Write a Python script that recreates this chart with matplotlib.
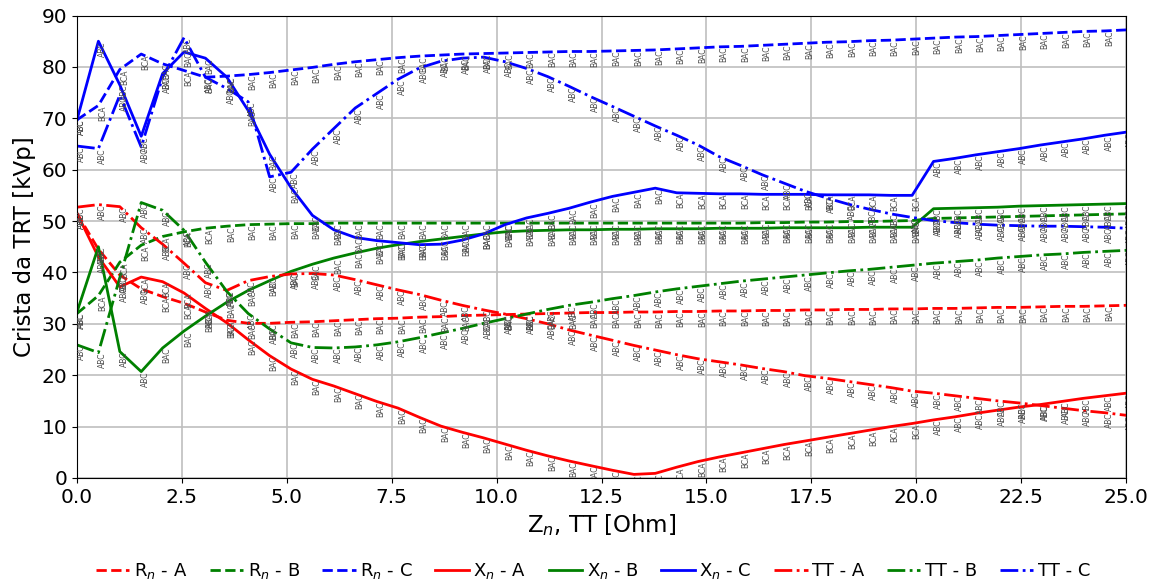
import matplotlib
matplotlib.use("Agg")
import matplotlib.pyplot as plt
from matplotlib.ticker import MultipleLocator

# impedance grid [Ohm]
x = [0.00, 0.51, 1.02, 1.53, 2.04, 2.55, 3.06, 3.57, 4.08, 4.59,
     5.10, 5.61, 6.12, 6.63, 7.14, 7.65, 8.16, 8.67, 9.18, 9.69,
     10.20, 10.71, 11.22, 11.73, 12.24, 12.76, 13.27, 13.78, 14.29, 14.80,
     15.31, 15.82, 16.33, 16.84, 17.35, 17.86, 18.37, 18.88, 19.39, 19.90,
     20.41, 20.92, 21.43, 21.94, 22.45, 22.96, 23.47, 23.98, 24.49, 25.00]

rn_a = [51.5, 44.5, 39.5, 36.8, 35.3, 34.0, 32.3, 30.7, 30.1, 30.1,
        30.3, 30.4, 30.6, 30.8, 31.0, 31.1, 31.3, 31.4, 31.6, 31.7,
        31.8, 31.9, 32.0, 32.1, 32.2, 32.2, 32.3, 32.3, 32.4, 32.4,
        32.5, 32.5, 32.6, 32.6, 32.7, 32.7, 32.8, 32.8, 32.9, 32.9,
        33.0, 33.0, 33.1, 33.2, 33.2, 33.3, 33.4, 33.4, 33.5, 33.6]
rn_b = [32.0, 35.5, 42.0, 45.3, 47.0, 47.9, 48.6, 49.0, 49.3, 49.4,
        49.5, 49.5, 49.6, 49.6, 49.6, 49.6, 49.6, 49.6, 49.6, 49.6,
        49.6, 49.6, 49.6, 49.6, 49.6, 49.6, 49.6, 49.6, 49.6, 49.6,
        49.6, 49.6, 49.7, 49.7, 49.8, 49.8, 49.9, 49.9, 50.0, 50.1,
        50.5, 50.6, 50.7, 50.8, 50.9, 51.0, 51.1, 51.2, 51.3, 51.4]
rn_c = [69.7, 72.5, 79.5, 82.5, 80.6, 79.3, 78.0, 78.2, 78.5, 78.9,
        79.4, 79.9, 80.5, 81.0, 81.4, 81.8, 82.1, 82.3, 82.5, 82.6,
        82.7, 82.8, 82.9, 83.0, 83.0, 83.1, 83.2, 83.3, 83.5, 83.7,
        83.9, 84.0, 84.2, 84.4, 84.6, 84.8, 84.9, 85.1, 85.2, 85.4,
        85.6, 85.8, 85.9, 86.1, 86.3, 86.5, 86.7, 86.9, 87.0, 87.2]

xn_a = [51.5, 43.0, 37.2, 39.1, 38.2, 36.0, 33.0, 30.2, 26.9, 23.8,
        21.2, 19.2, 17.9, 16.4, 14.9, 13.6, 11.8, 10.1, 8.9, 7.8,
        6.6, 5.4, 4.3, 3.3, 2.4, 1.5, 0.7, 0.9, 2.1, 3.2,
        4.1, 4.9, 5.7, 6.5, 7.2, 7.9, 8.6, 9.3, 10.0, 10.6,
        11.3, 11.9, 12.6, 13.2, 13.8, 14.3, 14.9, 15.5, 16.0, 16.5]
xn_b = [32.3, 45.0, 24.6, 20.7, 25.3, 28.6, 31.5, 34.2, 36.5, 38.4,
        40.2, 41.6, 42.8, 43.8, 44.7, 45.4, 46.0, 46.5, 47.0, 47.5,
        47.9, 48.1, 48.2, 48.3, 48.3, 48.4, 48.4, 48.5, 48.5, 48.5,
        48.6, 48.6, 48.6, 48.7, 48.7, 48.7, 48.7, 48.8, 48.8, 48.8,
        52.4, 52.5, 52.6, 52.7, 52.9, 53.0, 53.1, 53.2, 53.3, 53.4]
xn_c = [69.7, 85.0, 76.5, 66.5, 78.7, 82.9, 81.7, 78.0, 71.5, 63.0,
        56.5, 51.1, 48.3, 46.8, 46.2, 45.8, 45.4, 45.5, 46.3, 47.5,
        49.3, 50.6, 51.5, 52.5, 53.7, 54.8, 55.6, 56.4, 55.5, 55.4,
        55.3, 55.3, 55.2, 55.2, 55.2, 55.1, 55.1, 55.1, 55.0, 55.0,
        61.6, 62.2, 62.9, 63.5, 64.1, 64.8, 65.4, 66.0, 66.7, 67.3]

tt_a = [52.7, 53.2, 52.8, 48.7, 45.5, 41.8, 38.0, 36.5, 38.4, 39.2,
        39.7, 39.8, 39.5, 38.6, 37.6, 36.6, 35.7, 34.6, 33.6, 32.7,
        31.9, 31.0, 30.0, 28.8, 27.8, 26.8, 25.8, 24.9, 24.0, 23.2,
        22.6, 22.0, 21.3, 20.7, 19.9, 19.4, 18.8, 18.2, 17.6, 16.9,
        16.5, 16.0, 15.5, 15.0, 14.6, 14.1, 13.6, 13.1, 12.7, 12.2]
tt_b = [25.9, 24.4, 39.0, 53.6, 52.1, 48.2, 42.0, 36.3, 32.0, 29.0,
        26.3, 25.4, 25.3, 25.5, 25.9, 26.5, 27.3, 28.2, 29.1, 30.1,
        31.0, 31.9, 32.8, 33.6, 34.2, 34.9, 35.5, 36.2, 36.8, 37.3,
        37.8, 38.3, 38.7, 39.1, 39.5, 39.9, 40.3, 40.6, 41.0, 41.4,
        41.8, 42.1, 42.4, 42.8, 43.1, 43.4, 43.6, 43.9, 44.1, 44.3]
tt_c = [64.6, 64.1, 74.5, 64.4, 78.0, 85.7, 78.0, 75.8, 73.2, 58.6,
        59.5, 64.0, 68.0, 72.0, 74.8, 77.6, 79.8, 81.1, 81.7, 81.9,
        81.0, 79.7, 78.1, 76.2, 74.2, 72.3, 70.4, 68.5, 66.7, 64.8,
        62.5, 60.8, 59.0, 57.4, 55.8, 54.5, 53.3, 52.3, 51.4, 50.7,
        50.1, 49.7, 49.4, 49.2, 49.1, 49.0, 49.0, 48.9, 48.8, 48.6]

# phase sequence shown at each point
lab_rn_a = ["ABC"] * 4 + ["BCA"] * 4 + ["BAC"] * 42
lab_rn_b = ["ABC"] + ["BCA"] * 6 + ["BAC"] * 33 + ["ABC"] * 10
lab_rn_c = ["ABC"] + ["BCA"] * 3 + ["BAC", "BCA"] + ["BAC"] * 44
lab_xn_a = ["ABC"] * 3 + ["BCA"] * 4 + ["BAC"] * 21 + ["BCA"] * 12 + ["ABC"] * 10
lab_xn_b = ["ABC"] * 4 + ["BAC"] * 36 + ["ABC"] * 10
lab_xn_c = ["ABC"] * 4 + ["BAC"] * 24 + ["BCA"] * 12 + ["ABC"] * 10
lab_tt_a = ["ABC"] * 50
lab_tt_b = ["ABC"] * 50
lab_tt_c = ["ABC"] * 50

series = [
    ("R$_n$ - A", rn_a, lab_rn_a, "red", "--"),
    ("R$_n$ - B", rn_b, lab_rn_b, "green", "--"),
    ("R$_n$ - C", rn_c, lab_rn_c, "blue", "--"),
    ("X$_n$ - A", xn_a, lab_xn_a, "red", "-"),
    ("X$_n$ - B", xn_b, lab_xn_b, "green", "-"),
    ("X$_n$ - C", xn_c, lab_xn_c, "blue", "-"),
    ("TT - A", tt_a, lab_tt_a, "red", "-."),
    ("TT - B", tt_b, lab_tt_b, "green", "-."),
    ("TT - C", tt_c, lab_tt_c, "blue", "-."),
]

fig = plt.figure(figsize=(11.58, 5.81), dpi=100)
ax = fig.add_axes([0.0665, 0.1773, 0.906, 0.796])

for name, y, labs, col, ls in series:
    ax.plot(x, y, color=col, linestyle=ls, linewidth=2, label=name)
    for xi, yi, t in zip(x, y, labs):
        ax.text(xi, yi, t, rotation=90, ha="left", va="top",
                fontsize=5.5, color="0.3", clip_on=True)

ax.set_xlim(0, 25)
ax.set_ylim(0, 90)
ax.xaxis.set_major_locator(MultipleLocator(2.5))
ax.grid(True, color="0.75", linewidth=1.2)
ax.set_axisbelow(True)
ax.tick_params(labelsize=14.5)
ax.set_xlabel("Z$_n$, TT [Ohm]", fontsize=16.5)
ax.set_ylabel("Crista da TRT [kVp]", fontsize=16.5)

fig.legend(loc="lower center", bbox_to_anchor=(0.512, -0.028), ncol=9,
           frameon=False, fontsize=13, handlelength=1.85,
           handletextpad=0.25, columnspacing=1.25)

fig.savefig("out.png", dpi=100)
